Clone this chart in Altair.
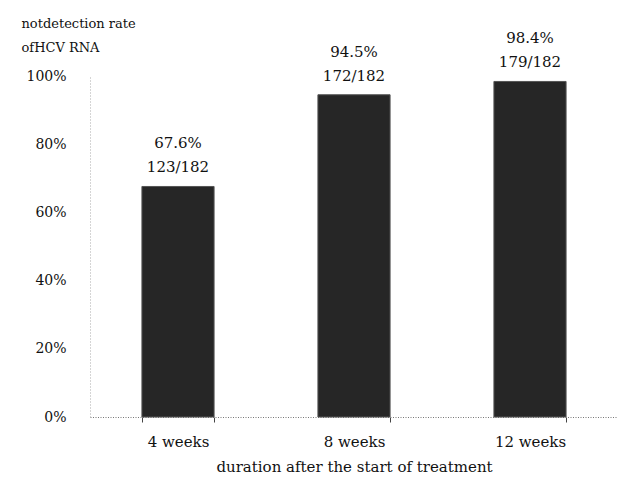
import altair as alt
import pandas as pd

categories = ["4 weeks", "8 weeks", "12 weeks"]
rates = [67.6, 94.5, 98.4]
detected = [123, 172, 179]
totals = [182, 182, 182]

df = pd.DataFrame({
    "cat": categories,
    "rate": rates,
    "pct": [f"{r}%" for r in rates],
    "frac": [f"{d}/{t}" for d, t in zip(detected, totals)],
})

FONT = "DejaVu Serif"

x = alt.X(
    "cat:N",
    sort=categories,
    scale=alt.Scale(paddingInner=0.59, paddingOuter=0.295),
    axis=alt.Axis(
        title="duration after the start of treatment",
        labelAngle=0,
        labelFont=FONT,
        labelFontSize=15,
        labelColor="#111",
        labelPadding=12,
        titleFont=FONT,
        titleFontSize=15,
        titleFontWeight="normal",
        titleColor="#111",
        titlePadding=10,
        ticks=True,
        tickBand="extent",
        tickSize=5,
        tickWidth=1,
        tickColor="#444",
        domainColor="#777",
        domainDash=[1, 1.5],
        domainWidth=1,
    ),
)

y = alt.Y(
    "rate:Q",
    scale=alt.Scale(domain=[0, 100]),
    axis=alt.Axis(
        values=[0, 20, 40, 60, 80, 100],
        labelExpr="datum.value + '%'",
        labelFont=FONT,
        labelFontSize=14,
        labelColor="#111",
        labelPadding=24,
        ticks=False,
        grid=False,
        domainColor="#aaa",
        domainDash=[1, 2],
        domainWidth=1,
        title=["notdetection rate", "ofHCV RNA"],
        titleAngle=0,
        titleAlign="left",
        titleBaseline="alphabetic",
        titleX=-69,
        titleY=-49,
        titleFont=FONT,
        titleFontSize=13,
        titleFontWeight="normal",
        titleColor="#111",
        titleLineHeight=24,
    ),
)

bars = alt.Chart(df).mark_bar(color="#262626", stroke="#555", strokeWidth=1).encode(x=x, y=y)

text_style = dict(font=FONT, fontSize=15, color="#111", baseline="alphabetic", align="center")

pct_text = alt.Chart(df).mark_text(dy=-38, **text_style).encode(
    x=alt.X("cat:N", sort=categories), y="rate:Q", text="pct:N"
)
frac_text = alt.Chart(df).mark_text(dy=-14, **text_style).encode(
    x=alt.X("cat:N", sort=categories), y="rate:Q", text="frac:N"
)

chart = (
    alt.layer(bars, pct_text, frac_text)
    .properties(
        width=528,
        height=341,
        autosize=alt.AutoSizeParams(type="none"),
        padding={"left": 90, "top": 76, "right": 0, "bottom": 80},
        background="white",
    )
    .configure_view(stroke=None)
)

chart.save("out.html", embed_options={"renderer": "svg", "actions": False})
